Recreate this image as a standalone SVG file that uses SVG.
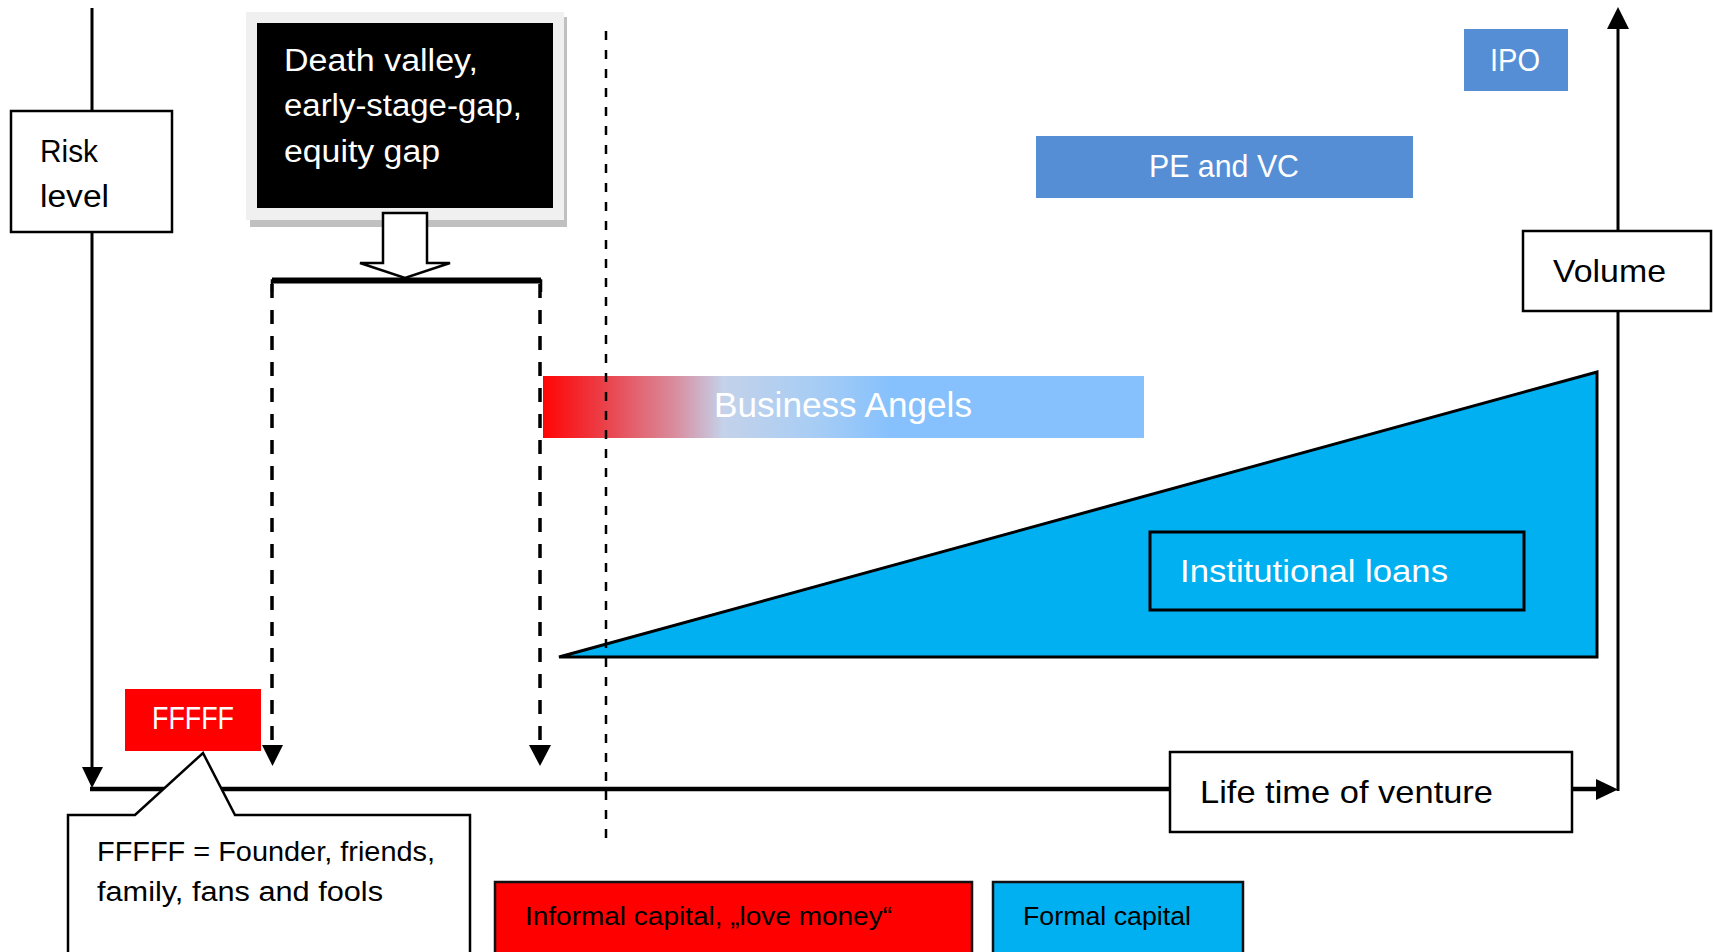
<svg xmlns="http://www.w3.org/2000/svg" width="1713" height="952" viewBox="0 0 1713 952">
<defs>
<style>
.t{font-family:"Liberation Sans",Arial,sans-serif;}
.w{fill:#ffffff;}
.k{fill:#000000;}
.box{fill:#ffffff;stroke:#000000;stroke-width:2.5;}
.ax{stroke:#000000;fill:none;}
</style>
<linearGradient id="ba" x1="0" y1="0" x2="1" y2="0">
<stop offset="0" stop-color="#ff0505"/>
<stop offset="0.10" stop-color="#eb3f48"/>
<stop offset="0.22" stop-color="#d98d9e"/>
<stop offset="0.30" stop-color="#c4d2ea"/>
<stop offset="0.45" stop-color="#a8cdf4"/>
<stop offset="0.58" stop-color="#86c1fd"/>
<stop offset="1" stop-color="#86c1fd"/>
</linearGradient>
</defs>
<rect width="1713" height="952" fill="#ffffff"/>

<g id="business-angels">
<rect x="543" y="376" width="601" height="62" fill="url(#ba)"/>
<text class="t w" x="714" y="417" font-size="35" textLength="258" lengthAdjust="spacingAndGlyphs">Business Angels</text>
</g>

<g id="formal-triangle">
<polygon points="559,657 1597,372 1597,657" fill="#00b0f0" stroke="#000000" stroke-width="3" stroke-linejoin="miter"/>
</g>

<g id="institutional-loans">
<rect x="1150" y="532" width="374" height="78" fill="#00b0f0" stroke="#000000" stroke-width="3"/>
<text class="t w" x="1180" y="582" font-size="32" textLength="268" lengthAdjust="spacingAndGlyphs">Institutional loans</text>
</g>

<g id="pe-vc">
<rect x="1036" y="136" width="377" height="62" fill="#558ed5"/>
<text class="t w" x="1149" y="177" font-size="32" textLength="150" lengthAdjust="spacingAndGlyphs">PE and VC</text>
</g>

<g id="ipo">
<rect x="1464" y="29" width="104" height="62" fill="#558ed5"/>
<text class="t w" x="1490" y="71" font-size="31" textLength="50" lengthAdjust="spacingAndGlyphs">IPO</text>
</g>

<g id="death-valley">
<rect x="250" y="17" width="317" height="210" fill="#c0c0c0"/>
<rect x="246" y="12" width="318" height="208" fill="#f0f0f0"/>
<rect x="257" y="23" width="296" height="185" fill="#000000"/>
<text class="t w" font-size="31">
<tspan x="284" y="71" textLength="194" lengthAdjust="spacingAndGlyphs">Death valley,</tspan>
<tspan x="284" y="116" textLength="238" lengthAdjust="spacingAndGlyphs">early-stage-gap,</tspan>
<tspan x="284" y="162" textLength="156" lengthAdjust="spacingAndGlyphs">equity gap</tspan>
</text>
</g>

<g id="connectors">
<!-- left vertical axis (risk level) -->
<line class="ax" x1="92" y1="8" x2="92" y2="770" stroke-width="3"/>
<polygon points="82,767 103,767 92,788" fill="#000000"/>
<!-- horizontal axis (life time) -->
<line class="ax" x1="90" y1="789" x2="1598" y2="789" stroke-width="4.5"/>
<polygon points="1596,779 1618,789.5 1596,800" fill="#000000"/>
<!-- right vertical axis (volume) -->
<line class="ax" x1="1618" y1="791" x2="1618" y2="26" stroke-width="3"/>
<polygon points="1607,29 1629,29 1618,7" fill="#000000"/>
<!-- thin dashed separator -->
<line class="ax" x1="606" y1="31" x2="606" y2="842" stroke-width="2.5" stroke-dasharray="9 10"/>
<!-- thick dashed arrows from bracket -->
<line class="ax" x1="272" y1="284" x2="272" y2="744" stroke-width="3.5" stroke-dasharray="14 12"/>
<polygon points="262,745 283,745 272.5,766" fill="#000000"/>
<line class="ax" x1="540" y1="284" x2="540" y2="744" stroke-width="3.5" stroke-dasharray="14 12"/>
<polygon points="529,745 551,745 540,766" fill="#000000"/>
<!-- bracket -->
<path class="ax" d="M272,292 L272,280.5 L541,280.5 L541,292" stroke-width="2.5"/>
<line class="ax" x1="272" y1="280.5" x2="541" y2="280.5" stroke-width="6"/>
<!-- block arrow -->
<polygon points="383,213 427,213 427,263 450,263 405,278 360,263 383,263" fill="#ffffff" stroke="#000000" stroke-width="2.5" stroke-linejoin="miter"/>
</g>

<g id="risk-level">
<rect class="box" x="11" y="111" width="161" height="121"/>
<text class="t k" font-size="31">
<tspan x="40" y="162" textLength="58" lengthAdjust="spacingAndGlyphs">Risk</tspan>
<tspan x="40" y="207" textLength="69" lengthAdjust="spacingAndGlyphs">level</tspan>
</text>
</g>

<g id="volume">
<rect class="box" x="1523" y="231" width="188" height="80"/>
<text class="t k" x="1553" y="282" font-size="32" textLength="113" lengthAdjust="spacingAndGlyphs">Volume</text>
</g>

<g id="life-time">
<rect class="box" x="1170" y="752" width="402" height="80"/>
<text class="t k" x="1200" y="803" font-size="32" textLength="293" lengthAdjust="spacingAndGlyphs">Life time of venture</text>
</g>

<g id="fffff">
<rect x="125" y="689" width="136" height="62" fill="#ff0000"/>
<text class="t w" x="152" y="729" font-size="31" textLength="82" lengthAdjust="spacingAndGlyphs">FFFFF</text>
</g>

<g id="fffff-callout">
<path d="M68,956 L68,815 L135,815 L203,753 L235,815 L470,815 L470,956" fill="#ffffff" stroke="#000000" stroke-width="2.5" stroke-linejoin="miter"/>
<text class="t k" font-size="27">
<tspan x="97" y="861" textLength="338" lengthAdjust="spacingAndGlyphs">FFFFF = Founder, friends,</tspan>
<tspan x="97" y="901" textLength="286" lengthAdjust="spacingAndGlyphs">family, fans and fools</tspan>
</text>
</g>

<g id="informal-capital">
<rect x="495" y="882" width="477" height="80" fill="#ff0000" stroke="#111111" stroke-width="2.5"/>
<text class="t k" x="525" y="925" font-size="26" textLength="367" lengthAdjust="spacingAndGlyphs">Informal capital, „love money“</text>
</g>

<g id="formal-capital">
<rect x="993" y="882" width="250" height="80" fill="#00b0f0" stroke="#111111" stroke-width="2.5"/>
<text class="t k" x="1023" y="925" font-size="26" textLength="168" lengthAdjust="spacingAndGlyphs">Formal capital</text>
</g>
</svg>
